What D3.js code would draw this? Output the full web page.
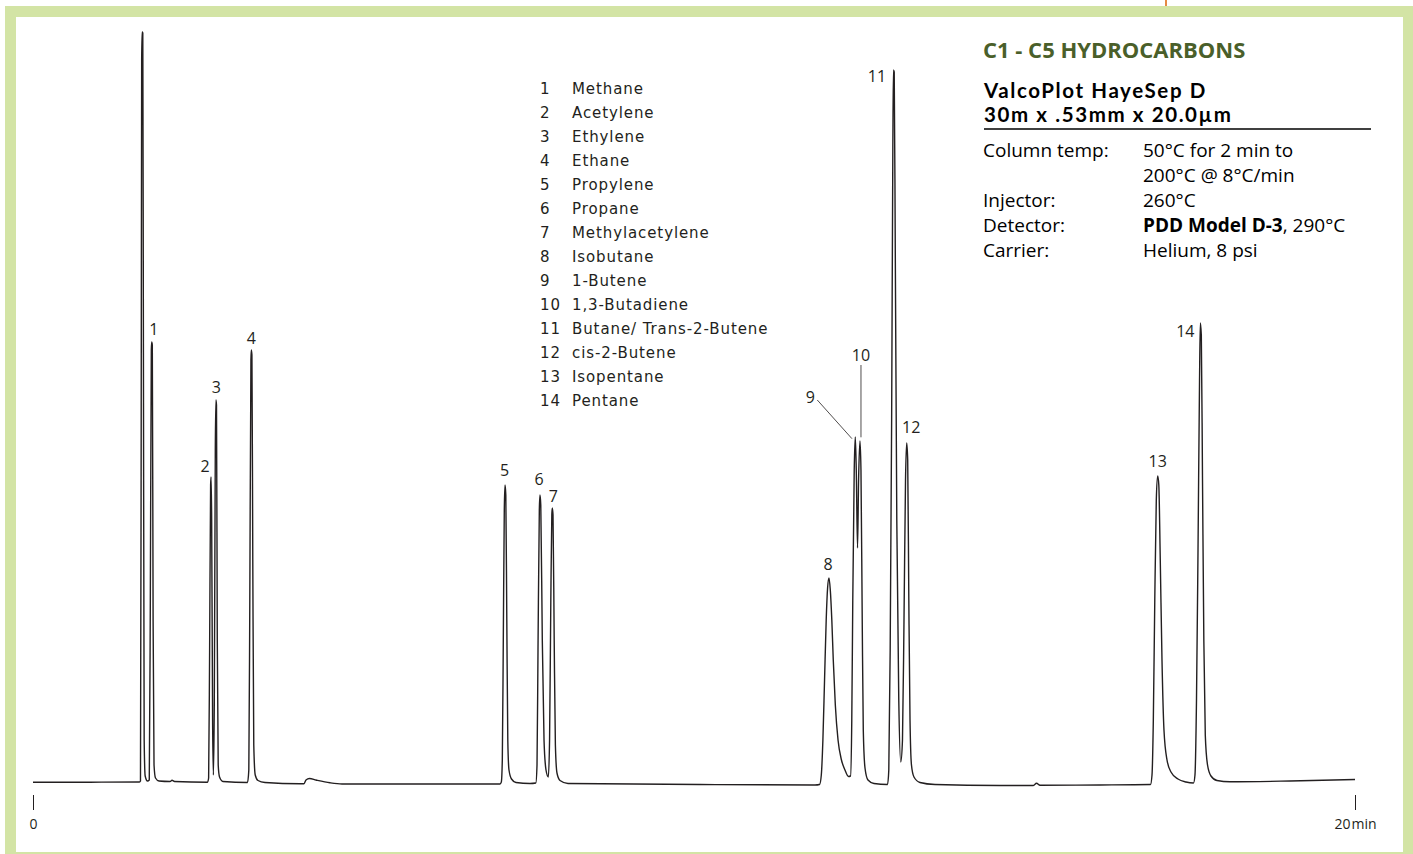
<!DOCTYPE html>
<html>
<head>
<meta charset="utf-8">
<script src="https://cdn.jsdelivr.net/npm/d3@7"></script>
<style>
  body { margin: 0; background: #fff; }
  svg { display: block; }
</style>
</head>
<body>
<div id="chart"></div>
<script>
const traceTime = [
  0.000, 0.862, 1.611, 1.626, 1.637, 1.644, 1.651, 1.661, 1.670, 1.682, 1.697, 1.732,
  1.759, 1.775, 1.790, 1.796, 1.805, 1.817, 1.831, 1.853, 1.906, 2.073, 2.103, 2.141,
  2.640, 2.657, 2.672, 2.687, 2.694, 2.703, 2.717, 2.729, 2.743, 2.758, 2.767, 2.776,
  2.788, 2.802, 2.822, 2.874, 3.245, 3.265, 3.280, 3.297, 3.303, 3.312, 3.325, 3.340,
  3.362, 3.404, 3.510, 4.039, 4.100, 4.130, 4.183, 4.281, 4.493, 4.675, 5.855, 7.065,
  7.085, 7.100, 7.115, 7.130, 7.141, 7.153, 7.168, 7.183, 7.201, 7.239, 7.307, 7.519,
  7.607, 7.625, 7.640, 7.660, 7.670, 7.682, 7.705, 7.731, 7.761, 7.796, 7.815, 7.834,
  7.849, 7.856, 7.867, 7.885, 7.903, 7.927, 7.973, 8.094, 10.091, 11.831, 11.900, 11.926,
  11.950, 11.975, 12.000, 12.021, 12.042, 12.062, 12.085, 12.107, 12.138, 12.179, 12.231, 12.284,
  12.338, 12.368, 12.387, 12.402, 12.424, 12.440, 12.455, 12.474, 12.490, 12.511, 12.526, 12.545,
  12.561, 12.587, 12.632, 12.723, 12.928, 12.947, 12.968, 12.990, 13.008, 13.017, 13.029, 13.045,
  13.068, 13.098, 13.128, 13.154, 13.177, 13.200, 13.218, 13.233, 13.250, 13.268, 13.290, 13.328,
  13.419, 13.646, 14.629, 15.129, 15.182, 15.234, 16.142, 16.906, 16.929, 16.949, 16.971, 16.994,
  17.015, 17.032, 17.054, 17.080, 17.110, 17.156, 17.216, 17.322, 17.443, 17.557, 17.579, 17.602,
  17.625, 17.648, 17.660, 17.675, 17.693, 17.713, 17.735, 17.769, 17.821, 17.912, 18.109, 19.017,
  20.000
]
const traceSignal = [
  -0.3, -0.2, 0, 1, 362, 722, 750, 749, 452, 42, 6, 1,
  2, 182, 432, 440, 437, 162, 17, 4, 1, 0.5, 1.7, 0.5,
  -0.2, 4, 132, 297, 305, 262, 62, 7, 82, 332, 382, 377,
  142, 17, 5, 0.5, -0.5, 12, 182, 422, 432, 427, 222, 37,
  7, 1.5, -0.5, -1.8, -1.8, 2, 3.5, 2, -0.8, -2, -2, -2,
  0, 22, 142, 272, 297, 287, 162, 42, 12, 3, -0.5, -1.5,
  -1, 17, 132, 272, 287, 277, 142, 42, 12, 5, 42, 182,
  267, 274, 267, 142, 37, 9, 1.5, -1.5, -2.5, -3, -2.5, 7,
  42, 102, 162, 194, 204, 192, 162, 122, 77, 42, 22, 12,
  5.5, 6, 62, 182, 312, 345, 312, 234, 302, 341, 312, 162,
  52, 14, 2, -1.5, -2.5, 12, 132, 362, 632, 712, 710, 532,
  262, 82, 20, 42, 162, 302, 339, 322, 182, 62, 17, 5,
  -0.5, -2.5, -3.5, -3.5, -1.3, -3.3, -3, -2.5, 7, 62, 182, 282,
  306, 297, 222, 122, 52, 22, 10, 3, 0, -1, 7, 82,
  232, 402, 459, 447, 302, 142, 47, 17, 6, 1.5, 0.2, 1,
  2.5
]

// numbered peaks
const peakNumbers = [1, 2, 3, 4, 5, 6, 7, 8, 9, 10, 11, 12, 13, 14]
const peakTimes = [1.796, 2.694, 2.767, 3.303, 7.141, 7.670, 7.856, 12.042, 12.440, 12.511, 13.017, 13.218, 17.015, 17.660]
const peakHeights = [440, 305, 382, 432, 297, 287, 274, 204, 345, 341, 712, 339, 306, 459]
const compoundNames = [
  'Methane', 'Acetylene', 'Ethylene', 'Ethane', 'Propylene', 'Propane', 'Methylacetylene',
  'Isobutane', '1-Butene', '1,3-Butadiene', 'Butane/ Trans-2-Butene', 'cis-2-Butene',
  'Isopentane', 'Pentane'
]

const axisTicks = [0, 20]
const axisTickLabels = ['0', '20 min']

const title = 'C1 - C5 HYDROCARBONS'
const columnLines = ['ValcoPlot HayeSep D', '30m x .53mm x 20.0µm']
const paramLabels = ['Column temp:', '', 'Injector:', 'Detector:', 'Carrier:']
const paramValues = ['50°C for 2 min to', '200°C @ 8°C/min', '260°C', 'PDD Model D-3|, 290°C', 'Helium, 8 psi']

const W = 1413
const H = 854
const ink = '#231f20'

const svg = d3.select('#chart')
  .append('svg')
  .attr('width', W)
  .attr('height', H)
  .style('font-family', "'Open Sans', sans-serif")

// green frame
svg.append('rect').attr('x', 5).attr('y', 6).attr('width', W).attr('height', H).attr('fill', '#d3e4a5')
svg.append('rect').attr('x', 16).attr('y', 17).attr('width', 1387).attr('height', 835).attr('fill', '#fff')
svg.append('line').attr('x1', 1166).attr('x2', 1166).attr('y1', 0).attr('y2', 6)
  .attr('stroke', '#e58a44').attr('stroke-width', 2)

let x = d3.scaleLinear().domain([0, 20]).range([33, 1355])
let y = d3.scaleLinear().domain([0, 750]).range([782, 32])

// trace
const line = d3.line()
  .x(d => x(d[0]))
  .y(d => y(d[1]))
  .curve(d3.curveMonotoneX)

svg.append('path')
  .datum(d3.zip(traceTime, traceSignal))
  .attr('d', line)
  .attr('fill', 'none')
  .attr('stroke', ink)
  .attr('stroke-width', 1.4)
  .attr('stroke-linejoin', 'round')

// time axis, only the end ticks
svg.append('g')
  .attr('transform', 'translate(0,795)')
  .call(d3.axisBottom(x).tickValues(axisTicks).tickSize(15).tickPadding(9)
    .tickFormat((d, i) => axisTickLabels[i]))
  .call(g => g.select('.domain').remove())
  .call(g => g.selectAll('line').attr('stroke', ink))
  .call(g => g.selectAll('text')
    .attr('fill', ink)
    .attr('font-family', "'Open Sans', sans-serif")
    .attr('font-size', 14)
    .attr('word-spacing', -2.5))

// peak labels: offset from each peak top
const labelOffset = {
  1: [2, -13], 2: [-6, -11], 3: [0.5, -13], 4: [0, -12], 5: [-0.5, -15], 6: [-1, -16],
  7: [1, -12], 8: [-1, -14], 9: [-45, -40], 10: [1, -86], 11: [-16.5, 6], 12: [4.5, -16],
  13: [0, -14.5], 14: [-15, 8]
}
const leaders = { 9: [-38, -37, -3.3, 1.7], 10: [1, -76, 1, -3.7] }

const peaks = peakNumbers.map((n, i) => ({ n: n, t: peakTimes[i], h: peakHeights[i] }))

svg.selectAll('.leader')
  .data(peaks.filter(d => leaders[d.n]))
  .enter().append('line')
  .attr('class', 'leader')
  .attr('x1', d => x(d.t) + leaders[d.n][0])
  .attr('y1', d => y(d.h) + leaders[d.n][1])
  .attr('x2', d => x(d.t) + leaders[d.n][2])
  .attr('y2', d => y(d.h) + leaders[d.n][3])
  .attr('stroke', ink)
  .attr('stroke-width', 0.8)

svg.selectAll('.peak-label')
  .data(peaks)
  .enter().append('text')
  .attr('class', 'peak-label')
  .attr('x', d => x(d.t) + labelOffset[d.n][0])
  .attr('y', d => y(d.h) + labelOffset[d.n][1])
  .attr('dy', '0.36em')
  .attr('text-anchor', 'middle')
  .attr('font-size', 16)
  .attr('fill', ink)
  .text(d => d.n)

// compound list
const legend = svg.append('g')
  .attr('font-family', "'DejaVu Sans', sans-serif")
  .attr('font-size', 15)
  .attr('letter-spacing', 0.9)
  .attr('fill', ink)

legend.selectAll('.num')
  .data(peakNumbers)
  .enter().append('text')
  .attr('x', 540)
  .attr('y', (d, i) => 94 + i * 24)
  .text(d => d)

legend.selectAll('.name')
  .data(compoundNames)
  .enter().append('text')
  .attr('x', 572)
  .attr('y', (d, i) => 94 + i * 24)
  .text(d => d)

// method block
const info = svg.append('g').attr('fill', '#000')

info.append('text')
  .attr('x', 983).attr('y', 57.5)
  .attr('font-size', 22).attr('font-weight', 700)
  .attr('fill', '#4a5f2a')
  .text(title)

info.selectAll('.col')
  .data(columnLines)
  .enter().append('text')
  .attr('x', 984)
  .attr('y', (d, i) => 97.5 + i * 24.7)
  .attr('font-family', 'Lato, sans-serif')
  .attr('font-size', 20.5)
  .attr('font-weight', 700)
  .attr('letter-spacing', 1.6)
  .text(d => d)

info.append('line')
  .attr('x1', 984).attr('x2', 1371).attr('y1', 129).attr('y2', 129)
  .attr('stroke', '#000').attr('stroke-width', 1.3)

info.selectAll('.plabel')
  .data(paramLabels)
  .enter().append('text')
  .attr('x', 983)
  .attr('y', (d, i) => 156.5 + i * 25.1)
  .attr('font-size', 19)
  .text(d => d)

info.selectAll('.pvalue')
  .data(paramValues)
  .enter().append('text')
  .attr('x', 1143)
  .attr('y', (d, i) => 156.5 + i * 25.1)
  .attr('font-size', 19)
  .each(function (d) {
    const parts = d.split('|')
    const t = d3.select(this)
    if (parts.length > 1) {
      t.append('tspan').attr('font-weight', 700).text(parts[0])
      t.append('tspan').text(parts[1])
    } else {
      t.text(d)
    }
  })
</script>
</body>
</html>
